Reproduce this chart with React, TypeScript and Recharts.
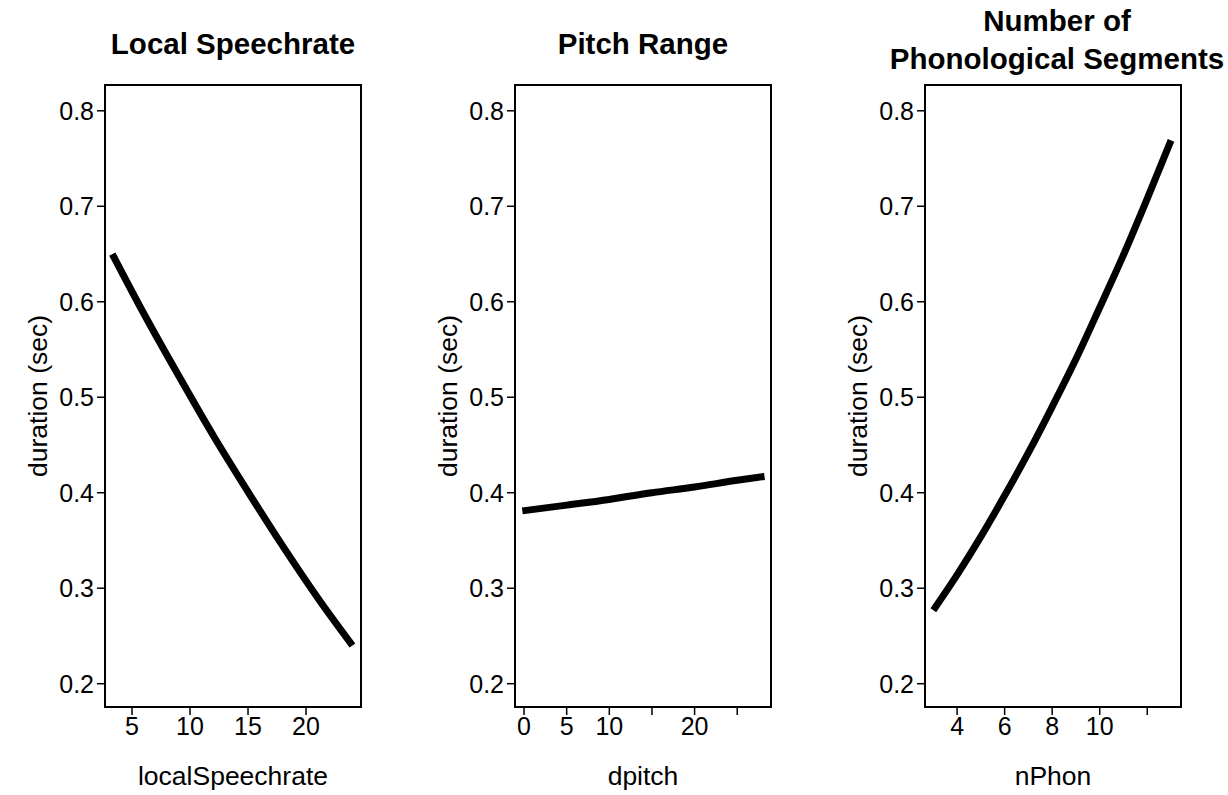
import React from "react";
import { LineChart, Line, XAxis, YAxis, ReferenceArea } from "recharts";

// Panel 1: Local Speechrate
const rateX = [3.3, 6, 9, 12, 15, 18, 21, 24];
const rateY = [0.65, 0.588, 0.523, 0.46, 0.401, 0.344, 0.29, 0.24];
const rateTicks = [5, 10, 15, 20];

// Panel 2: Pitch Range
const pitchX = [-0.2, 5, 10, 15, 20, 25, 28.2];
const pitchY = [0.381, 0.387, 0.393, 0.4, 0.406, 0.413, 0.417];
const pitchTicks = [0, 5, 10, 15, 20, 25];
const pitchTickLabels = ["0", "5", "10", "", "20", ""];

// Panel 3: Number of Phonological Segments
const phonX = [3, 4, 5, 6, 7, 8, 9, 10, 11, 12, 13];
const phonY = [0.277, 0.314, 0.354, 0.397, 0.442, 0.49, 0.54, 0.594, 0.649, 0.708, 0.769];
const phonTicks = [4, 6, 8, 10, 12];
const phonTickLabels = ["4", "6", "8", "10", ""];

const yTicks = [0.2, 0.3, 0.4, 0.5, 0.6, 0.7, 0.8];
const yDomain: [number, number] = [0.1756, 0.827];

const FONT = "'Liberation Sans', Arial, Helvetica, sans-serif";

type PanelProps = {
  left: number;
  xs: number[];
  ys: number[];
  xDomain: [number, number];
  xTicks: number[];
  xTickLabels?: string[];
  xLabel: string;
};

function Panel({ left, xs, ys, xDomain, xTicks, xTickLabels, xLabel }: PanelProps) {
  const data = xs.map((x, i) => ({ x, y: ys[i] }));
  const fmt = (v: number) => {
    if (!xTickLabels) return String(v);
    const idx = xTicks.indexOf(v);
    return idx >= 0 ? xTickLabels[idx] : String(v);
  };
  return (
    <div style={{ position: "absolute", left, top: 0 }}>
      <LineChart
        width={410}
        height={795}
        data={data}
        margin={{ top: 85, right: 49, bottom: 0, left: 25 }}
      >
        <XAxis
          type="number"
          dataKey="x"
          domain={xDomain}
          ticks={xTicks}
          interval={0}
          allowDataOverflow
          axisLine={false}
          tickSize={8}
          tickMargin={2}
          height={88}
          tickLine={{ stroke: "#000", strokeWidth: 1.5 }}
          tick={{ fill: "#000", fontSize: 25, fontFamily: FONT }}
          tickFormatter={fmt}
          label={{
            value: xLabel,
            position: "insideBottom",
            offset: 10,
            style: { fill: "#000", fontSize: 26.5, fontFamily: FONT },
          }}
        />
        <YAxis
          type="number"
          domain={yDomain}
          ticks={yTicks}
          interval={0}
          allowDataOverflow
          width={80}
          axisLine={false}
          tickSize={8}
          tickMargin={3}
          tickLine={{ stroke: "#000", strokeWidth: 1.5 }}
          tick={{ fill: "#000", fontSize: 25, fontFamily: FONT }}
          tickFormatter={(v: number) => v.toFixed(1)}
          label={{
            value: "duration (sec)",
            angle: -90,
            position: "insideLeft",
            offset: 13,
            style: { fill: "#000", fontSize: 26.5, fontFamily: FONT, textAnchor: "middle" },
          }}
        />
        <ReferenceArea
          x1={xDomain[0]}
          x2={xDomain[1]}
          y1={yDomain[0]}
          y2={yDomain[1]}
          fill="none"
          fillOpacity={0}
          stroke="#000"
          strokeWidth={2}
          ifOverflow="visible"
        />
        <Line
          type="monotone"
          dataKey="y"
          stroke="#000"
          strokeWidth={7}
          dot={false}
          isAnimationActive={false}
        />
      </LineChart>
    </div>
  );
}

export default function App() {
  return (
    <div
      style={{
        position: "absolute",
        left: 0,
        top: 0,
        width: 1228,
        height: 795,
        background: "#fff",
        overflow: "hidden",
      }}
    >
      <Panel
        left={0}
        xs={rateX}
        ys={rateY}
        xDomain={[2.67, 24.74]}
        xTicks={rateTicks}
        xLabel="localSpeechrate"
      />
      <Panel
        left={410}
        xs={pitchX}
        ys={pitchY}
        xDomain={[-1.06, 28.96]}
        xTicks={pitchTicks}
        xTickLabels={pitchTickLabels}
        xLabel="dpitch"
      />
      <Panel
        left={820}
        xs={phonX}
        ys={phonY}
        xDomain={[2.65, 13.42]}
        xTicks={phonTicks}
        xTickLabels={phonTickLabels}
        xLabel="nPhon"
      />
      <svg
        width={1228}
        height={100}
        style={{ position: "absolute", left: 0, top: 0 }}
      >
        <g fontFamily={FONT} fontWeight="bold" fontSize={29.5} fill="#000" textAnchor="middle">
          <text x={233} y={54}>Local Speechrate</text>
          <text x={643} y={54}>Pitch Range</text>
          <text x={1057} y={31}>Number of</text>
          <text x={1057} y={69}>Phonological Segments</text>
        </g>
      </svg>
    </div>
  );
}
